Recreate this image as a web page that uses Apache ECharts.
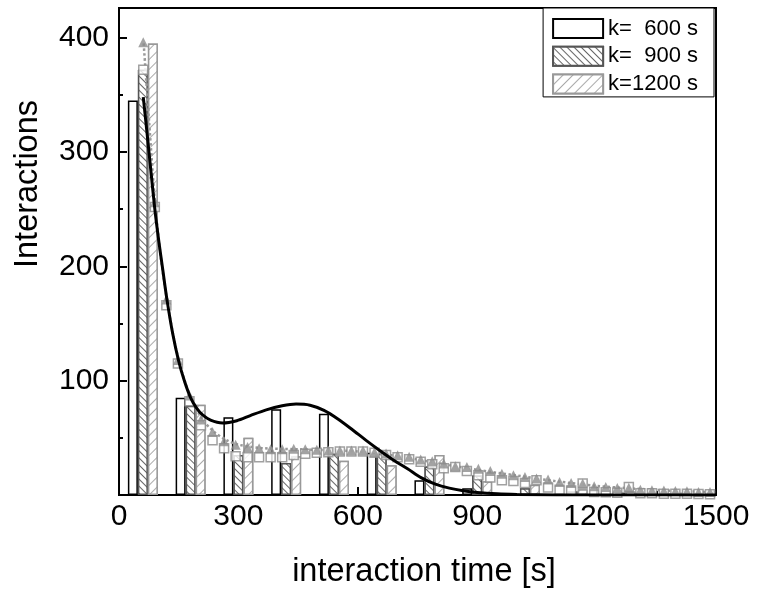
<!DOCTYPE html>
<html>
<head>
<meta charset="utf-8">
<script src="https://cdn.jsdelivr.net/npm/echarts@6/dist/echarts.min.js"></script>
<style>html,body{margin:0;padding:0;background:#fff;}#c{width:759px;height:595px;}</style>
</head>
<body>
<div id="c"></div>
<script>
// ---- data ----
const bins = [60, 180, 300, 420, 540, 660, 780, 900, 1020, 1140, 1260, 1380];
const k600 = [345, 85, 68, 75, 71, 37, 13, 6, 1, 0.5, 0, 0];
const k900 = [372, 78, 35, 28, 36, 36, 25, 17, 6, 3, 2, 1];
const k1200 = [395, 79, 50, 34, 30, 26, 35, 12, 9, 5, 3, 2];

const ptX = [61, 90, 119, 148, 177, 206, 235, 264, 293, 323, 352, 381, 410, 439, 468, 497, 526, 555, 584, 613,
             642, 671, 700, 729, 758, 787, 816, 845, 874, 903, 933, 962, 991, 1020, 1049, 1078, 1107, 1136, 1165, 1194,
             1223, 1252, 1281, 1310, 1339, 1369, 1398, 1427, 1456, 1485];
const triVals = [396, 256, 171, 118, 87, 66, 55, 47, 44, 42, 41, 40, 40, 40.5, 40, 39.5, 39, 39, 39, 39,
                 37.7, 36.3, 34.8, 33.4, 31, 29.6, 27.5, 25.2, 24.6, 23, 21, 18.5, 17.3, 15.8, 14.4, 13.5, 11.4, 10.5, 10, 7.6,
                 7, 6.1, 6.3, 4.7, 4.1, 4, 3.5, 3.2, 2.6, 2.6];
const sqVals = [372, 252, 166, 115, 82, 61, 48, 41, 34, 33, 33, 33, 33, 35, 36, 37, 37.5, 38, 38, 38,
                37, 35, 33, 31.3, 29, 27, 23.4, 24.6, 21, 17.3, 15.2, 13, 12.3, 10.5, 13, 6.5, 4.7, 4, 10, 2.6,
                2.3, 2, 7, 1.5, 1.5, 1.2, 1, 1, 0.8, 0.6];

const fitX = [61, 70, 80, 90, 100, 110, 120, 135, 150, 165, 180, 195, 210, 230, 260, 296, 330, 370, 410, 445,
              480, 515, 550, 585, 620, 655, 690, 725, 760, 795, 830, 865, 900, 950, 1000, 1100, 1200, 1500];
const fitY = [348, 318, 284, 250, 222, 197, 172, 141, 117, 99, 85, 76, 70, 65.5, 63, 65, 69.5, 74.5, 78, 79.5,
              78.5, 74, 66.5, 57.5, 48, 39, 30.5, 23, 15, 9.5, 6, 3.7, 2.2, 1.0, 0.5, 0.1, 0, 0];

const fit2X = [62, 75, 90, 105, 120, 135, 150, 165, 180, 210, 240, 270, 300, 360, 450, 540, 600, 700, 800, 900, 1000, 1100, 1200, 1300, 1400, 1500];
const fit2Y = [395, 330, 258, 208, 172, 142, 118, 100, 86, 66, 55, 48, 44, 41, 40, 39, 38, 34, 28, 22, 17, 12, 8, 5.5, 3.5, 2.5];

const xTicks = [0, 300, 600, 900, 1200, 1500];
const yTicks = [100, 200, 300, 400];

// ---- chart ----
const FONT = 'Liberation Sans, Arial, sans-serif';
const chart = echarts.init(document.getElementById('c'), null, {renderer: 'canvas'});
const zip = (a, b) => a.map((v, i) => [v, b[i]]);

chart.setOption({
  animation: false,
  backgroundColor: '#fff',
  grid: {left: 119, right: 43, top: 8, bottom: 100, show: true, borderColor: '#000', borderWidth: 2, backgroundColor: 'transparent'},
  xAxis: {
    type: 'value', min: 0, max: 1500, interval: 300,
    axisLine: {show: true, lineStyle: {color: '#000', width: 2}},
    axisTick: {show: true, inside: true, length: 8, lineStyle: {color: '#000', width: 2}},
    minorTick: {show: true, splitNumber: 2, length: 4, lineStyle: {color: '#000', width: 2}},
    splitLine: {show: false},
    axisLabel: {fontSize: 30, fontFamily: FONT, color: '#000', margin: 7,
      formatter: v => xTicks.includes(v) ? String(v) : ''}
  },
  yAxis: {
    type: 'value', min: 0, max: 426, interval: 100,
    axisLine: {show: true, lineStyle: {color: '#000', width: 2}},
    axisTick: {show: true, inside: true, length: 8, lineStyle: {color: '#000', width: 2}},
    minorTick: {show: true, splitNumber: 2, length: 4, lineStyle: {color: '#000', width: 2}},
    splitLine: {show: false},
    axisLabel: {fontSize: 30, fontFamily: FONT, color: '#000', margin: 10, showMaxLabel: false,
      formatter: v => yTicks.includes(v) ? String(v) : ''}
  },
  legend: {
    data: ['k=  600 s', 'k=  900 s', 'k=1200 s'],
    orient: 'vertical', right: 45, top: 8,
    icon: 'rect', itemWidth: 50, itemHeight: 19, itemGap: 5.7,
    padding: [9.5, 16, 2, 9],
    borderColor: '#000', borderWidth: 1, backgroundColor: '#fff',
    textStyle: {fontSize: 22, fontFamily: FONT, color: '#000'}
  },
  graphic: [{
    type: 'text', x: 28, y: 184, rotation: Math.PI / 2,
    style: {text: 'Interactions', fontSize: 32.5, fontFamily: FONT, fill: '#000', align: 'center', verticalAlign: 'middle'}
  }, {
    type: 'text', x: 424, y: 572,
    style: {text: 'interaction time [s]', fontSize: 32.5, fontFamily: FONT, fill: '#000', align: 'center', verticalAlign: 'middle'}
  }],
  series: [
    {name: 'k=  600 s', type: 'bar', data: zip(bins, k600), barWidth: 10, barGap: '0%', z: 2,
     itemStyle: {color: '#fff', borderColor: '#000', borderWidth: 1.5}},
    {name: 'k=  900 s', type: 'bar', data: zip(bins, k900), barWidth: 10, barGap: '0%', z: 2,
     itemStyle: {color: '#fff', borderColor: '#555', borderWidth: 1.5,
       decal: {symbol: 'rect', symbolSize: 1, dashArrayX: [1, 0], dashArrayY: [1, 4], rotation: Math.PI / 4, color: '#666', backgroundColor: '#fff'}}},
    {name: 'k=1200 s', type: 'bar', data: zip(bins, k1200), barWidth: 10, barGap: '0%', z: 2,
     itemStyle: {color: '#fff', borderColor: '#999', borderWidth: 1.5,
       decal: {symbol: 'rect', symbolSize: 1, dashArrayX: [1, 0], dashArrayY: [1, 6], rotation: -Math.PI / 4, color: '#aaa', backgroundColor: '#fff'}}},
    {name: 'fit2', type: 'line', data: zip(fit2X, fit2Y), smooth: 0.3, showSymbol: false, z: 3,
     lineStyle: {color: '#999', width: 2.5, type: 'dotted'}},
    {name: 'squares', type: 'scatter', data: zip(ptX, sqVals), symbol: 'rect', symbolSize: 9, z: 4,
     itemStyle: {color: '#fff', borderColor: '#8a8a8a', borderWidth: 1.5}},
    {name: 'triangles', type: 'scatter', data: zip(ptX, triVals), symbol: 'triangle', symbolSize: 10, z: 5,
     itemStyle: {color: '#8c8c8c'}},
    {name: 'fit', type: 'line', data: zip(fitX, fitY), smooth: 0.3, showSymbol: false, z: 6,
     lineStyle: {color: '#000', width: 3}}
  ]
});
</script>
</body>
</html>
